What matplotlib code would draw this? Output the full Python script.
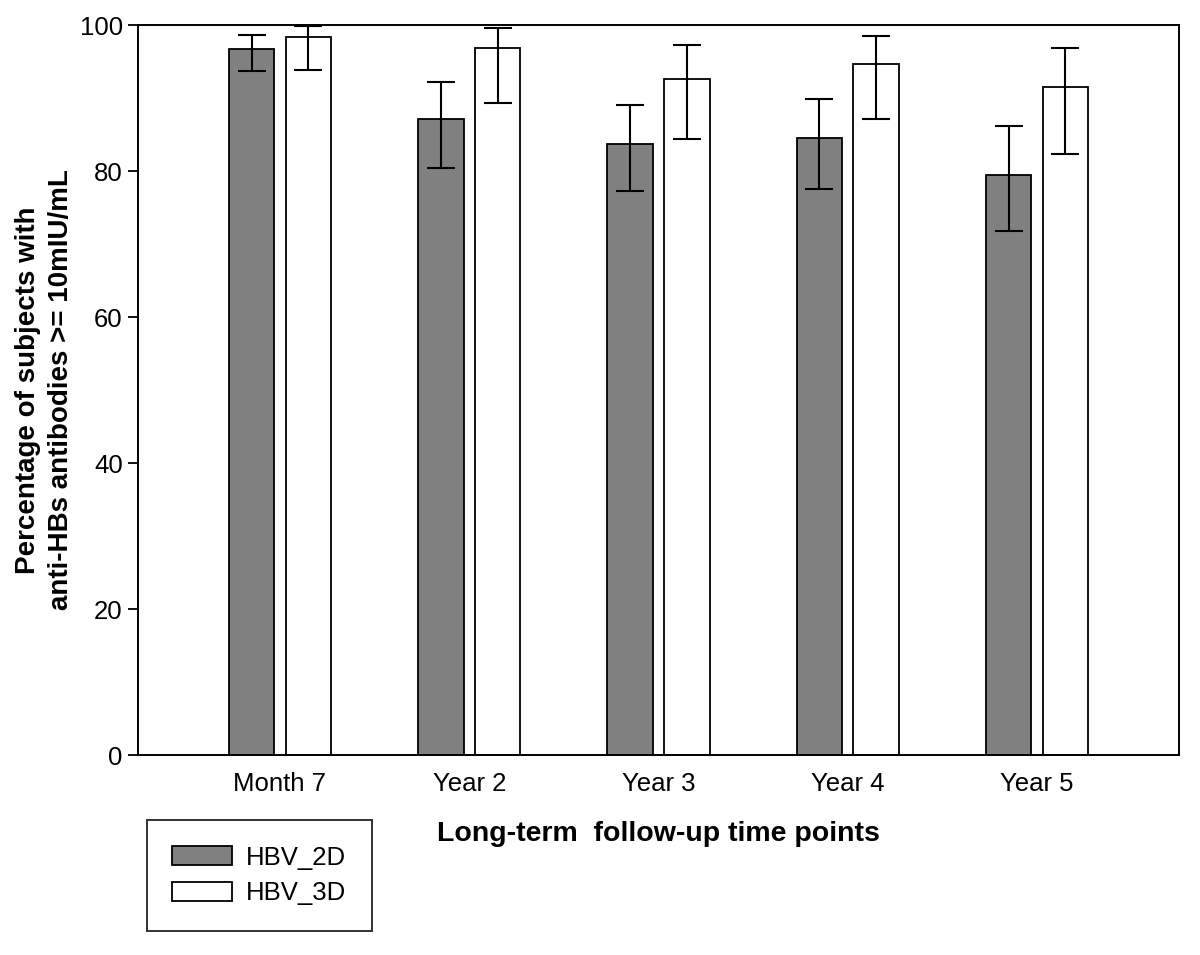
import matplotlib
matplotlib.use("Agg")
import matplotlib.pyplot as plt
import numpy as np
from matplotlib.patches import Patch

categories = ["Month 7", "Year 2", "Year 3", "Year 4", "Year 5"]
hbv_2d = [96.7, 87.1, 83.7, 84.5, 79.5]
hbv_2d_low = [93.7, 80.4, 77.3, 77.6, 71.8]
hbv_2d_high = [98.6, 92.2, 89.0, 89.8, 86.1]
hbv_3d = [98.3, 96.9, 92.6, 94.7, 91.5]
hbv_3d_low = [93.9, 89.3, 84.4, 87.1, 82.4]
hbv_3d_high = [99.8, 99.6, 97.3, 98.5, 96.8]
yticks = [0, 20, 40, 60, 80, 100]

plt.rcParams['font.family'] = ['Liberation Sans', 'DejaVu Sans']

fig = plt.figure(figsize=(12, 9.55), dpi=100)
ax = fig.add_axes([0.115, 0.2094, 0.8675, 0.7644])

x = np.arange(len(categories))
w = 0.24
off = 0.15
v2 = np.array(hbv_2d); v3 = np.array(hbv_3d)
err2 = [v2 - np.array(hbv_2d_low), np.array(hbv_2d_high) - v2]
err3 = [v3 - np.array(hbv_3d_low), np.array(hbv_3d_high) - v3]

ax.bar(x - off, v2, w, color='#808080', edgecolor='black', linewidth=1.3, zorder=2)
ax.bar(x + off, v3, w, color='white', edgecolor='black', linewidth=1.3, zorder=2)
ax.errorbar(x - off, v2, yerr=err2, fmt='none', ecolor='black', elinewidth=1.5,
            capsize=10, capthick=1.5, zorder=3)
ax.errorbar(x + off, v3, yerr=err3, fmt='none', ecolor='black', elinewidth=1.5,
            capsize=10, capthick=1.5, zorder=3)

ax.set_xlim(-0.75, 4.75)
ax.set_ylim(0, 100)
ax.set_yticks(yticks)
ax.set_xticks(x)
ax.set_xticklabels(categories, fontsize=18.5)
ax.tick_params(axis='y', direction='out', length=7, width=1.3, labelsize=18.5, pad=4)
ax.tick_params(axis='x', length=0, pad=12)
for s in ax.spines.values():
    s.set_linewidth(1.4)

ax.set_xlabel("Long-term  follow-up time points", fontsize=20.5, fontweight='bold', labelpad=18)
ax.set_ylabel("Percentage of subjects with\nanti-HBs antibodies >= 10mIU/mL",
              fontsize=20, fontweight='bold', labelpad=4, linespacing=1.35)

handles = [Patch(facecolor='#808080', edgecolor='black', linewidth=1.3, label='HBV_2D'),
           Patch(facecolor='white', edgecolor='black', linewidth=1.3, label='HBV_3D')]
leg = fig.legend(handles=handles, loc='upper left', bbox_to_anchor=(0.1223, 0.1414),
                 fontsize=18.5, frameon=True, fancybox=False, edgecolor='black',
                 handlelength=2.3, handleheight=0.74, handletextpad=0.55,
                 borderpad=1.0, borderaxespad=0, labelspacing=0.45)
leg.get_frame().set_linewidth(1.4)

fig.savefig("out.png", dpi=100)
